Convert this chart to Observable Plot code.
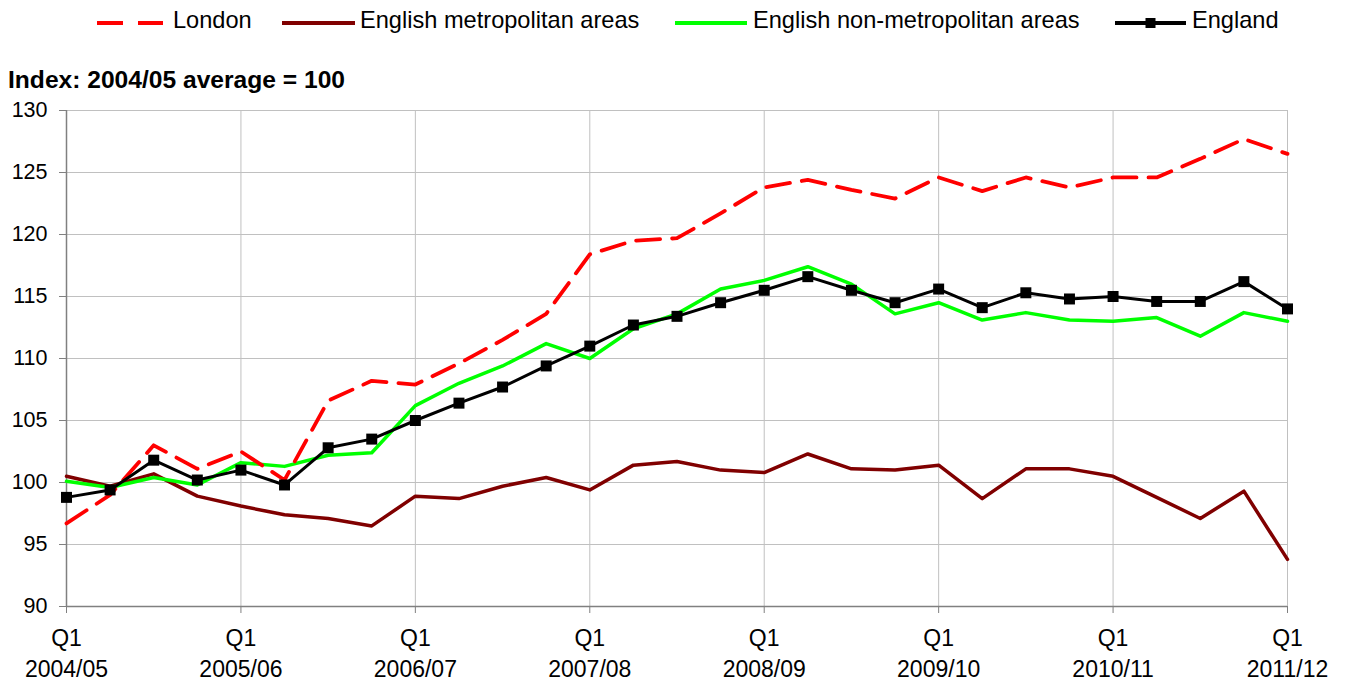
<!DOCTYPE html>
<html>
<head>
<meta charset="utf-8">
<script src="https://cdn.jsdelivr.net/npm/d3@7"></script>
<script src="https://cdn.jsdelivr.net/npm/@observablehq/plot@0.6"></script>
<style>
  html, body { margin: 0; padding: 0; background: #fff; }
  body { width: 1345px; height: 684px; position: relative; overflow: hidden;
         font-family: "Liberation Sans", Arial, sans-serif; color: #000; }
  #legend { position: absolute; left: 0; top: 0; width: 1345px; height: 42px; }
  .lg-sw { position: absolute; top: 10px; }
  .lg-tx { position: absolute; top: 6px; font-size: 23.6px; line-height: 28px; white-space: nowrap; }
  #title { position: absolute; left: 8px; top: 62px; font-size: 24.6px; font-weight: bold; line-height: 36px; white-space: nowrap; }
  #chart { position: absolute; left: 0; top: 98px; }
</style>
</head>
<body>
<div id="legend"></div>
<div id="title">Index: 2004/05 average = 100</div>
<div id="chart"></div>
<script>
// ---- data ----
const years = ["2004/05", "2005/06", "2006/07", "2007/08", "2008/09", "2009/10", "2010/11", "2011/12"];
const quarterNames = ["Q1", "Q2", "Q3", "Q4"];
const seriesNames = ["London", "English metropolitan areas", "English non-metropolitan areas", "England"];

const london    = [96.7, 99.0, 103.0, 101.1, 102.5, 100.2, 106.6, 108.2, 107.9, 109.6, 111.5, 113.6, 118.4, 119.5, 119.7, 121.7, 123.8, 124.4, 123.6, 122.9, 124.6, 123.5, 124.6, 123.8, 124.6, 124.6, 126.1, 127.7, 126.5];
const metro     = [100.5, 99.7, 100.7, 98.9, 98.1, 97.4, 97.1, 96.5, 98.9, 98.7, 99.7, 100.4, 99.4, 101.4, 101.7, 101.0, 100.8, 102.3, 101.1, 101.0, 101.4, 98.7, 101.1, 101.1, 100.5, 98.8, 97.1, 99.3, 93.8];
const nonMetro  = [100.1, 99.6, 100.4, 99.8, 101.6, 101.3, 102.2, 102.4, 106.2, 108.0, 109.4, 111.2, 110.0, 112.4, 113.6, 115.6, 116.3, 117.4, 116.0, 113.6, 114.5, 113.1, 113.7, 113.1, 113.0, 113.3, 111.8, 113.7, 113.0];
const england   = [98.8, 99.4, 101.8, 100.2, 101.0, 99.8, 102.8, 103.5, 105.0, 106.4, 107.7, 109.4, 111.0, 112.7, 113.4, 114.5, 115.5, 116.6, 115.5, 114.5, 115.6, 114.1, 115.3, 114.8, 115.0, 114.6, 114.6, 116.2, 114.0];

const yTicks = [90, 95, 100, 105, 110, 115, 120, 125, 130];

// ---- derived ----
const quarters = [];
years.forEach((y, yi) => {
  quarterNames.forEach((q) => {
    if (yi < years.length - 1 || q === "Q1") quarters.push(y + " " + q);
  });
});
const q1Ticks = quarters.filter(d => d.endsWith("Q1"));
const toRows = (name, vals) => vals.map((v, i) => ({series: name, quarter: quarters[i], value: v}));
const rowsLondon = toRows(seriesNames[0], london);
const rowsMetro = toRows(seriesNames[1], metro);
const rowsNon = toRows(seriesNames[2], nonMetro);
const rowsEng = toRows(seriesNames[3], england);

const FONT = "'Liberation Sans', Arial, sans-serif";
const GRID = "#c0c0c0";
const AXIS = "#808080";

const chart = Plot.plot({
  width: 1345,
  height: 586,
  marginLeft: 66,
  marginRight: 58,
  marginTop: 12,
  marginBottom: 78,
  style: {fontFamily: FONT, color: "#000", background: "#fff", overflow: "visible"},
  x: {type: "point", domain: quarters, padding: 0, round: false, range: [66, 1287]},
  y: {domain: [90, 130], range: [508, 12]},
  marks: [
    Plot.gridY(yTicks, {stroke: GRID, strokeOpacity: 1, strokeWidth: 1}),
    Plot.gridX(q1Ticks, {stroke: GRID, strokeOpacity: 1, strokeWidth: 1}),
    Plot.axisY(yTicks, {fontSize: 21.5, tickSize: 7, tickPadding: 12, stroke: AXIS, label: null, fill: "#000"}),
    Plot.axisX(q1Ticks, {
      fontSize: 23, tickSize: 7, tickPadding: 11, lineHeight: 1.33, stroke: AXIS, label: null, fill: "#000",
      tickFormat: d => d.split(" ")[1] + "\n" + d.split(" ")[0]
    }),
    Plot.ruleX([quarters[0]], {stroke: AXIS, strokeWidth: 1.5}),
    Plot.ruleY([90], {stroke: AXIS, strokeWidth: 1.5}),
    Plot.line(rowsMetro, {x: "quarter", y: "value", stroke: "#800000", strokeWidth: 3.5, strokeLinejoin: "round"}),
    Plot.line(rowsNon, {x: "quarter", y: "value", stroke: "#00ff00", strokeWidth: 3.5, strokeLinejoin: "round"}),
    Plot.line(rowsLondon, {x: "quarter", y: "value", stroke: "#ff0000", strokeWidth: 3.8, strokeDasharray: "24,12", strokeLinejoin: "round"}),
    Plot.line(rowsEng, {x: "quarter", y: "value", stroke: "#000", strokeWidth: 3, strokeLinejoin: "round"}),
    Plot.dot(rowsEng, {x: "quarter", y: "value", symbol: "square", r: 6.2, fill: "#000", stroke: "none"})
  ]
});
document.getElementById("chart").appendChild(chart);

// ---- legend ----
const legendItems = [
  {name: seriesNames[0], color: "#ff0000", dash: "26,15", sw: 97, sww: 66, tx: 173},
  {name: seriesNames[1], color: "#800000", dash: null, sw: 282, sww: 73, tx: 360},
  {name: seriesNames[2], color: "#00ff00", dash: null, sw: 675, sww: 72, tx: 753},
  {name: seriesNames[3], color: "#000000", dash: null, sw: 1115, sww: 71, tx: 1192, marker: true}
];
const legend = d3.select("#legend");
legendItems.forEach(it => {
  const svg = legend.append("svg").attr("class", "lg-sw")
    .style("left", it.sw + "px").attr("width", it.sww).attr("height", 20);
  svg.append("line").attr("x1", 0).attr("x2", it.sww).attr("y1", 13).attr("y2", 13)
    .attr("stroke", it.color).attr("stroke-width", 4)
    .attr("stroke-dasharray", it.dash);
  if (it.marker) {
    svg.append("rect").attr("x", it.sww / 2 - 5).attr("y", 8).attr("width", 10).attr("height", 10).attr("fill", "#000");
  }
  legend.append("div").attr("class", "lg-tx").style("left", it.tx + "px").text(it.name);
});
</script>
</body>
</html>
